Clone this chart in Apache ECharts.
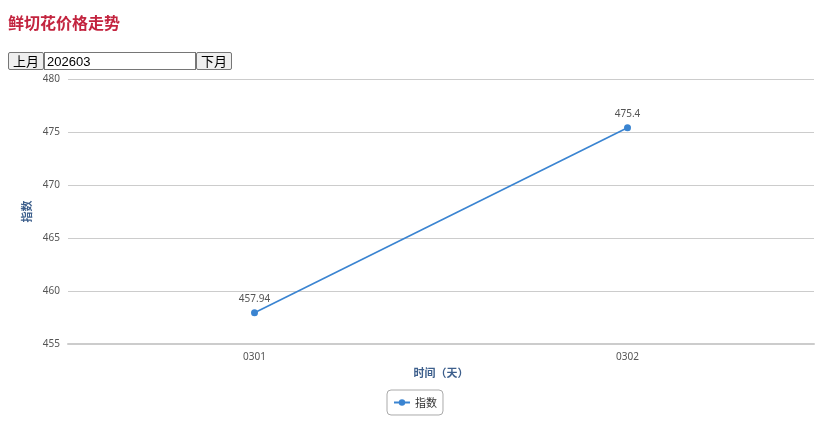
<!DOCTYPE html>
<html><head><meta charset="utf-8">
<script src="https://cdn.jsdelivr.net/npm/echarts@6/dist/echarts.min.js"></script>
<style>
html,body{margin:0;padding:0;background:#fff;width:821px;height:428px;overflow:hidden;font-family:"Noto Sans CJK SC",sans-serif;}
#title{position:absolute;left:8px;top:10px;font-size:16px;font-weight:bold;color:#c3243f;margin:0;line-height:24px;}
#ctrl{position:absolute;left:8px;top:52px;height:18px;display:flex;z-index:2;}
button{font-family:"Noto Sans CJK SC",sans-serif;font-size:13px;height:18px;width:36px;padding:0;margin:0;border:1px solid #767676;background:#efefef;border-radius:2px;line-height:14px;color:#000;}
input{font-family:"Liberation Sans",Arial,sans-serif;font-size:13px;height:18px;box-sizing:border-box;width:152px;margin:0;border:1px solid #767676;padding:0 2px;}
#chart{position:absolute;left:0;top:0;width:821px;height:428px;}
</style></head>
<body>
<div id="chart"></div>
<div id="title">鲜切花价格走势</div>
<div id="ctrl"><button>上月</button><input value="202603"><button>下月</button></div>
<script>
const categories = ['0301', '0302'];
const values = [457.94, 475.4];
const seriesName = '指数';
const yMin = 455, yMax = 480, yInterval = 5;

const chart = echarts.init(document.getElementById('chart'));
chart.setOption({
  animation: false,
  grid: {left: 68, right: 7, top: 79, bottom: 84},
  legend: {
    data: [seriesName], left: 387, top: 390,
    borderColor: '#aaa', borderWidth: 1, borderRadius: 4, padding: [7, 6],
    itemWidth: 16, itemHeight: 8, itemGap: 6,
    textStyle: {color: '#333', fontSize: 11, fontFamily: 'Noto Sans CJK SC'}
  },
  xAxis: {
    type: 'category', data: categories, boundaryGap: true,
    name: '时间（天）', nameLocation: 'middle', nameGap: 22,
    nameTextStyle: {color: '#3d5f8c', fontWeight: 'bold', fontSize: 11, fontFamily: 'Noto Sans CJK SC'},
    axisLine: {lineStyle: {color: '#ccc', width: 2}},
    axisTick: {length: 4, lineStyle: {color: '#ccc'}},
    axisLabel: {color: '#555', fontSize: 10, margin: 8, fontFamily: 'Noto Sans'}
  },
  yAxis: {
    type: 'value', min: yMin, max: yMax, interval: yInterval,
    name: '指数', nameLocation: 'middle', nameGap: 32, nameRotate: 90,
    nameTextStyle: {color: '#3d5f8c', fontWeight: 'bold', fontSize: 11, fontFamily: 'Noto Sans CJK SC'},
    axisLine: {show: false}, axisTick: {show: false},
    axisLabel: {color: '#555', fontSize: 10, margin: 8, fontFamily: 'Noto Sans'},
    splitLine: {lineStyle: {color: '#ccc'}}
  },
  series: [{
    name: seriesName, type: 'line', data: values,
    symbol: 'circle', symbolSize: 7,
    itemStyle: {color: '#3a84d1'},
    lineStyle: {color: '#3a84d1', width: 1.6},
    label: {show: true, position: 'top', color: '#555', fontSize: 10, fontFamily: 'Noto Sans'}
  }]
});
</script>
</body></html>
